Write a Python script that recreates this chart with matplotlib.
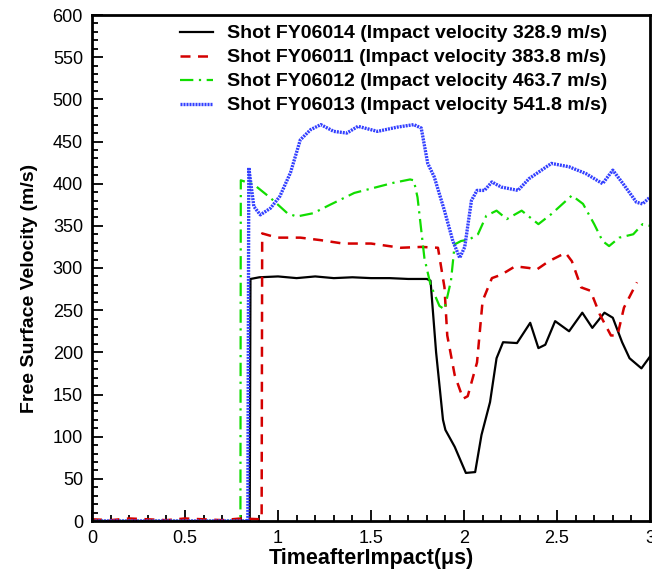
import matplotlib.pyplot as plt
from matplotlib.ticker import MultipleLocator

plt.rcParams['font.family'] = ['Liberation Sans', 'DejaVu Sans']

# Shot FY06014 (black)
t_14 = [0.0, 0.3, 0.6, 0.848, 0.852, 0.9, 1.0, 1.1, 1.2, 1.3, 1.4, 1.5, 1.6, 1.7, 1.8,
        1.82, 1.85, 1.887, 1.90, 1.95, 2.01, 2.06, 2.094, 2.14, 2.175, 2.21, 2.285,
        2.356, 2.40, 2.437, 2.49, 2.565, 2.636, 2.69, 2.755, 2.80, 2.85, 2.89, 2.954, 3.0]
v_14 = [0, 0, 0, 0, 287, 289, 290, 288, 290, 288, 289, 288, 288, 287, 287,
        285, 200, 120, 108, 88, 57, 58, 102, 141, 193, 212, 211,
        235, 205, 209, 237, 225, 247, 229, 247, 241, 212, 193, 181, 195]

# Shot FY06011 (red)
t_11 = [0.0, 0.1, 0.2, 0.3, 0.4, 0.5, 0.6, 0.7, 0.8, 0.912, 0.915, 0.995, 1.12, 1.23,
        1.35, 1.5, 1.66, 1.77, 1.86, 1.895, 1.91, 1.95, 1.995, 2.02, 2.07, 2.10, 2.15,
        2.20, 2.275, 2.35, 2.39, 2.456, 2.546, 2.58, 2.63, 2.68, 2.73, 2.79, 2.825,
        2.86, 2.93]
v_11 = [2, 1, 3, 2, 1, 3, 2, 1, 3, 2, 341, 336, 336, 333,
        329, 329, 324, 325, 324, 277, 220, 173, 145, 148, 188, 261, 288,
        292, 302, 300, 298, 308, 318, 308, 277, 273, 245, 220, 220,
        253, 283]

# Shot FY06012 (green)
t_12 = [0.0, 0.5, 0.798, 0.80, 0.87, 0.96, 1.05, 1.10, 1.19, 1.28, 1.41, 1.515, 1.62,
        1.71, 1.73, 1.75, 1.787, 1.82, 1.868, 1.895, 1.93, 1.95, 1.984, 2.03, 2.075,
        2.12, 2.175, 2.23, 2.31, 2.40, 2.47, 2.58, 2.64, 2.70, 2.745, 2.78, 2.835,
        2.91, 2.96, 3.0]
v_12 = [0, 0, 0, 404, 399, 383, 365, 361, 365, 375, 389, 395, 401,
        405, 404, 384, 312, 280, 255, 251, 285, 328, 332, 334, 340,
        362, 368, 358, 368, 352, 364, 386, 376, 352, 332, 326, 336,
        340, 352, 350]

# Shot FY06013 (blue)
t_13 = [0.0, 0.5, 0.838, 0.843, 0.87, 0.905, 0.96, 1.01, 1.067, 1.12, 1.175, 1.23,
        1.30, 1.37, 1.43, 1.535, 1.64, 1.73, 1.77, 1.805, 1.84, 1.895, 1.94, 1.977,
        2.004, 2.04, 2.07, 2.11, 2.15, 2.20, 2.29, 2.35, 2.47, 2.565, 2.655, 2.745,
        2.80, 2.855, 2.927, 2.96, 3.0]
v_13 = [0, 0, 0, 419, 373, 363, 371, 385, 413, 452, 464, 470,
        462, 460, 468, 462, 467, 470, 466, 424, 408, 368, 332, 312,
        325, 380, 392, 392, 402, 396, 392, 406, 424, 420, 412, 400,
        416, 400, 378, 376, 384]

labels = ['Shot FY06014 (Impact velocity 328.9 m/s)',
          'Shot FY06011 (Impact velocity 383.8 m/s)',
          'Shot FY06012 (Impact velocity 463.7 m/s)',
          'Shot FY06013 (Impact velocity 541.8 m/s)']

fig = plt.figure(figsize=(6.52, 5.79), dpi=100)
ax = fig.add_axes([92 / 652, 58 / 579, 558 / 652, 506 / 579])

ax.plot(t_14, v_14, color='black', lw=1.6, label=labels[0])
ax.plot(t_11, v_11, color='#d40000', lw=1.8, dashes=(4, 3), label=labels[1])
ax.plot(t_12, v_12, color='#11dd00', lw=1.6, dashes=(6, 2.5, 1, 2.5), label=labels[2])
ax.plot(t_13, v_13, color='#3340ff', lw=2.4, dashes=(0.6, 0.3), label=labels[3])

ax.set_xlim(0, 3)
ax.set_ylim(0, 600)
ax.xaxis.set_major_locator(MultipleLocator(0.5))
ax.xaxis.set_minor_locator(MultipleLocator(0.1))
ax.yaxis.set_major_locator(MultipleLocator(50))
ax.yaxis.set_minor_locator(MultipleLocator(10))
ax.set_xticks([0, 0.5, 1, 1.5, 2, 2.5, 3])
ax.set_xticklabels(['0', '0.5', '1', '1.5', '2', '2.5', '3'])
ax.tick_params(which='both', direction='in', top=False, right=False,
               labelsize=13, width=1.3)
ax.tick_params(which='major', length=8, pad=6.5)
ax.tick_params(which='minor', length=4, pad=6.5)
for s in ax.spines.values():
    s.set_linewidth(2)

ax.set_xlabel('TimeafterImpact(\u03bcs)', fontsize=15.5, fontweight='bold', labelpad=1)
ax.set_ylabel('Free Surface Velocity (m/s)', fontsize=14, fontweight='bold')
ax.yaxis.set_label_coords(-0.097, 0.46)

ax.legend(loc='upper left', bbox_to_anchor=(0.14, 1.0), frameon=False,
          prop={'weight': 'bold', 'size': 14}, handlelength=1.7,
          labelspacing=0.33, borderaxespad=0.1, handletextpad=0.7)

fig.savefig('out.png', dpi=100)
